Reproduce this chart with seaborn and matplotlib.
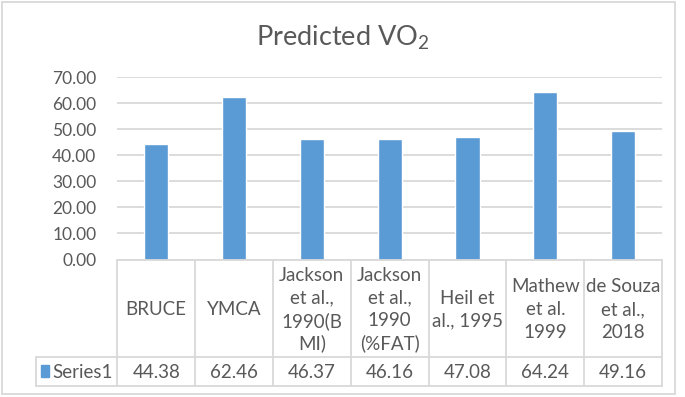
import matplotlib
matplotlib.use('Agg')
import matplotlib.pyplot as plt
import seaborn as sns
from matplotlib.lines import Line2D
from matplotlib.patches import Rectangle
import matplotlib.transforms as mtransforms

# data
categories = ['BRUCE', 'YMCA', 'Jackson\net al.,\n1990(B\nMI)', 'Jackson\net al.,\n1990\n(%FAT)',
              'Heil et\nal., 1995', 'Mathew\net al.\n1999', 'de Souza\net al.,\n2018']
values = [44.38, 62.46, 46.37, 46.16, 47.08, 64.24, 49.16]
series_name = 'Series1'
yticks = [0, 10, 20, 30, 40, 50, 60, 70]

BAR = '#5B9BD5'
TXT = '#595959'
GRID = '#D9D9D9'

sns.set_theme(style='white')
plt.rcParams['font.family'] = ['Lato', 'DejaVu Sans']
plt.rcParams['mathtext.fontset'] = 'custom'
plt.rcParams['mathtext.rm'] = 'Lato'
plt.rcParams['mathtext.it'] = 'Lato'

W, H = 685, 397
fig = plt.figure(figsize=(W / 100, H / 100), dpi=100)


def fx(px):
    return px / W


def fy(py):
    return 1 - py / H


ax = fig.add_axes([fx(117.3), fy(259.5), fx(662) - fx(117.3), fy(77) - fy(259.5)])
x = list(range(len(values)))
sns.barplot(x=x, y=values, color=BAR, width=0.31, saturation=1, ax=ax)
ax.set_xlim(-0.5, len(values) - 0.5)
ax.set_ylim(0, 70)
ax.set_yticks(yticks)
ax.set_yticklabels(['%.2f' % t for t in yticks], color=TXT, fontsize=12.5)
ax.tick_params(axis='y', length=0, pad=15)
ax.set_xticks([])
ax.set_xlabel('')
for s in ax.spines.values():
    s.set_visible(False)
ax.yaxis.grid(True, color=GRID, linewidth=1.3)
ax.set_axisbelow(True)

# chart title
fig.text(fx(343), fy(38), r'Predicted VO$_2$', ha='center', va='center', fontsize=19.5, color=TXT)

# data table under the plot
tr = mtransforms.blended_transform_factory(ax.transData, fig.transFigure)
top, mid, bot = fy(260), fy(356.5), fy(385.5)
n = len(values)
for i in range(n + 1):
    fig.add_artist(Line2D([i - 0.5, i - 0.5], [top, bot], transform=tr, color=GRID, lw=1.3))
fig.add_artist(Line2D([fx(35.5), fx(662)], [mid, mid], transform=fig.transFigure, color=GRID, lw=1.3))
fig.add_artist(Line2D([fx(35.5), fx(662)], [bot, bot], transform=fig.transFigure, color=GRID, lw=1.3))
fig.add_artist(Line2D([fx(35.5), fx(35.5)], [mid, bot], transform=fig.transFigure, color=GRID, lw=1.3))
fig.add_artist(Line2D([fx(117.3), fx(662)], [top, top], transform=fig.transFigure, color=GRID, lw=1.3))

line_gap = 22.6
for i, (c, v) in enumerate(zip(categories, values)):
    rows = c.split('\n')
    y0 = 308 - line_gap * (len(rows) - 1) / 2
    for k, r in enumerate(rows):
        fig.text(i, fy(y0 + k * line_gap), r, transform=tr, ha='center', va='center_baseline',
                 fontsize=13.5, color=TXT)
    fig.text(i, fy(371), '%.2f' % v, transform=tr, ha='center', va='center_baseline',
             fontsize=13.5, color=TXT)

fig.add_artist(Rectangle((fx(41), fy(377)), fx(8), fy(365) - fy(377),
                         transform=fig.transFigure, color=BAR))
fig.text(fx(52), fy(371), series_name, ha='left', va='center_baseline', fontsize=13.5, color=TXT)

# outer chart border
fig.add_artist(Rectangle((fx(2), fy(394)), fx(675) - fx(2), fy(2) - fy(394),
                         transform=fig.transFigure, fill=False, edgecolor=GRID, lw=1.3))

fig.savefig('out.png', dpi=100)
